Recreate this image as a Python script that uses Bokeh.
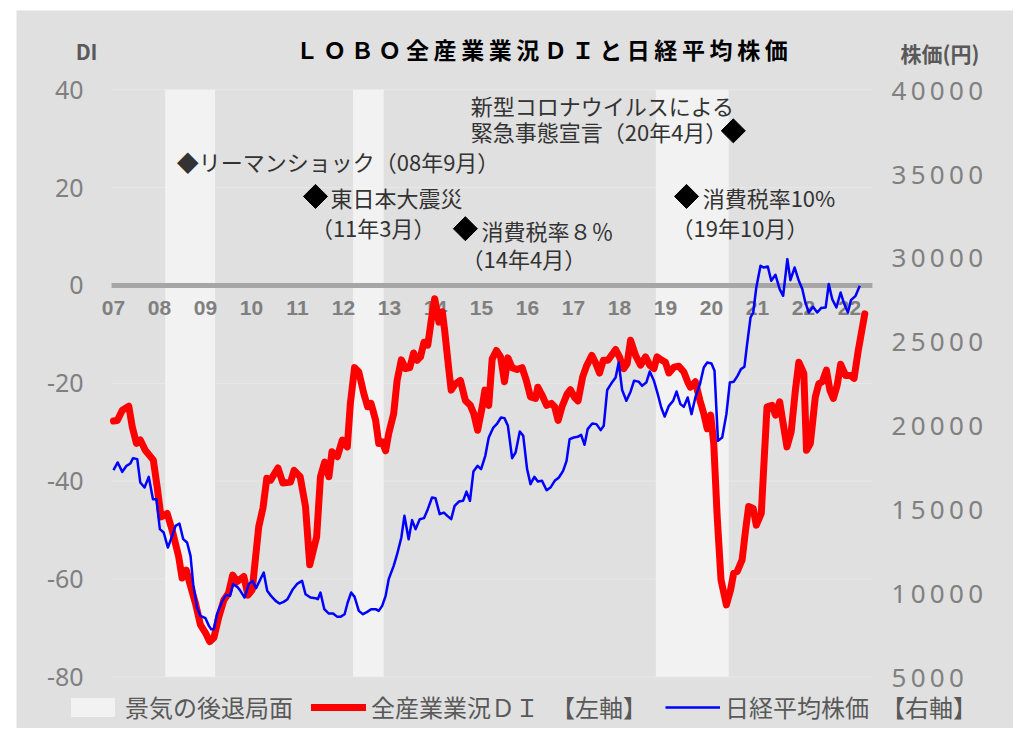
from bokeh.plotting import figure
from bokeh.models import Range1d, LinearAxis, FixedTicker, Legend, LegendItem
from bokeh.embed import file_html
from bokeh.resources import INLINE
from bokeh.core.properties import value
import math

# ---- data (month index: 0 = Jan 2007) ----
di_t = [0, 1, 2.3, 4, 4.9, 6, 7, 8.3, 10.4, 11.4, 12.4, 14, 15.3, 17, 17.9, 19, 19.9, 21.4, 22.7, 24,
        25.1, 26.2, 27.5, 28.8, 30, 31.1, 32.3, 34, 35.1, 36.2, 37, 37.9, 39, 40, 41, 42.9, 44.2, 46.2,
        47.1, 48.7, 50.1, 51.2, 53, 54, 55.1, 56.2, 57, 58.4, 59.7, 61, 61.8, 62.9, 64, 65.3, 66.3, 67.2,
        68.4, 69.2, 70.1, 71, 71.8, 73.1, 74, 75.1, 76.2, 77.3, 78.3, 79.2, 80.1, 81, 82, 82.9, 83.8,
        84.9, 85.8, 86.4, 87.5, 88.1, 89.2, 90.5, 91.8, 93.1, 94, 95, 96.2, 96.9, 97.9, 98.8, 99.9, 101,
        102, 102.9, 104, 105.3, 106.6, 107.7, 108.8, 110.1, 110.7, 111.8, 113, 114.2, 115.1, 116, 117,
        118.4, 119.2, 120.3, 121.2, 122.4, 123.4, 124.8, 125.7, 126.8, 127.8, 129, 131, 132, 133.1, 134,
        134.9, 136.2, 137.5, 138.8, 139.9, 141, 141.8, 143.1, 144, 144.9, 146.2, 147.5, 148.8, 149.8,
        150.5, 151.8, 153, 154, 154.9, 155.8, 156.6, 157.5, 158.5, 159.9, 161, 161.8, 162.7, 164, 164.9,
        165.7, 166.9, 167.7, 169, 169.6, 170.5, 171.8, 172.7, 173.8, 174.7, 175.7, 176.8, 177.9, 178.8,
        180.1, 180.8, 181.8, 183.1, 184, 184.9, 186, 186.9, 187.8, 188.8, 189.7, 191, 192.3, 193.2,
        194.3, 195, 196]
di_v = [-27.7, -27.6, -25.5, -24.7, -28.9, -32.3, -31.6, -33.7, -35.7, -41.2, -47.3, -46.6, -50, -55.4,
        -59.8, -58.2, -60.9, -65, -69.4, -71, -72.8, -72, -67.7, -64.3, -62.9, -59.2, -60.5, -59.5, -63.3,
        -62.2, -56.1, -49.3, -45.5, -39.4, -39.8, -37.3, -40.4, -40.2, -37.8, -39.1, -45.2, -57.1, -51.4,
        -39.1, -36.1, -39.1, -34, -35, -31.6, -33, -24.1, -16.8, -17.7, -22.1, -24.8, -24.1, -27.6, -32.3,
        -32, -33.8, -30.3, -26.2, -19.4, -15.2, -17, -16.8, -13.8, -15.3, -14.6, -11.6, -12.2, -7.1, -2.7,
        -7.5, -5.4, -9.2, -17.3, -21.4, -20.1, -19.4, -23.5, -24.5, -26.2, -29.6, -24.8, -21.4, -24.5, -15,
        -13.3, -14.6, -19.7, -14.8, -16.8, -17.2, -16.8, -19.4, -22.8, -23.1, -20.8, -22.4, -24.5, -24.1,
        -24.8, -27.6, -24.8, -22.1, -21.3, -22.9, -23.6, -18.7, -16.5, -14.3, -15.7, -17.9, -15.3, -15.3,
        -13.1, -14.6, -17, -16, -11.2, -14.3, -16.3, -14.6, -16.3, -17, -14.6, -15.3, -15.7, -17.9, -16.7,
        -16.5, -17.7, -19.7, -20.8, -19.7, -23.5, -26.2, -29.3, -26.5, -32.3, -47.3, -60.2, -65.3, -62.2,
        -58.8, -58.5, -56.1, -50, -45.2, -45.6, -49, -46.6, -37.8, -24.8, -24.5, -26.5, -23.8, -28.2, -33,
        -29.9, -21.4, -15.7, -18, -33.7, -32.3, -22.8, -20.1, -19.7, -17.3, -21.4, -23.1, -20.4, -16.1,
        -18.4, -18.4, -19, -13.3, -10.2, -5.8]

nk_t = [0, 1.1, 2.3, 3.4, 4.4, 5.1, 6.2, 7, 8.1, 9.2, 10.3, 11.2, 12.1, 13.1, 14.2, 15.3, 16.2, 17.2, 18.2,
        19.2, 20.1, 20.8, 21.8, 22.7, 24, 24.9, 25.5, 26.2, 27, 28.4, 29.4, 30.4, 31.2, 32.3, 33.1, 34.2,
        35.3, 36.3, 37.2, 38.2, 39.2, 40.1, 41.1, 42.3, 43.3, 44.4, 45.4, 46.8, 48, 49.2, 50.1, 51.4, 52.7,
        53.3, 54, 55, 56.2, 57.3, 58.4, 59.2, 60.3, 61.1, 62, 62.9, 64, 65.1, 66.2, 67.2, 68.4, 69.2, 70.1,
        71, 71.8, 73.1, 74, 75.1, 75.9, 77, 77.9, 78.8, 79.9, 81, 82, 83.1, 84, 85.1, 86.2, 87.1, 88.1, 89,
        90.1, 91.2, 92.1, 93, 93.9, 95, 95.9, 97, 97.9, 99.1, 100.1, 101.1, 102, 102.9, 104, 104.9, 106,
        106.9, 107.9, 108.8, 109.8, 110.7, 111.8, 113, 114, 115.1, 116.2, 117.3, 118.2, 119, 120.1, 121.1,
        122, 122.9, 123.7, 124.9, 126, 127.1, 127.9, 128.8, 129.9, 131, 131.8, 132.7, 133.8, 134.9, 135.8,
        137, 137.9, 139, 139.9, 141, 142, 142.9, 143.8, 144.9, 146, 146.9, 147.9, 148.8, 149.8, 150.8,
        151.8, 153, 154, 154.9, 156, 156.8, 157.7, 158.8, 159.9, 160.8, 161.8, 162.8, 163.7, 164.6, 165.3,
        166.2, 166.9, 167.7, 168.8, 169.6, 170.7, 171.6, 172.7, 173.8, 174.7, 175.8, 176.6, 177.7, 178.8,
        179.7, 180.5, 181.4, 182.5, 183.6, 184.6, 185.8, 186.6, 187.5, 188.6, 189.7, 190.5, 191.6, 192.4,
        193.6, 194.7]
nk_v = [17322, 17780, 17222, 17580, 17716, 18038, 17978, 16583, 16285, 16922, 15593, 15593, 13804, 13604,
        12707, 13405, 14001, 14140, 13207, 13008, 12213, 10525, 9130, 8634, 8496, 8038, 7840, 7840, 8734,
        9529, 9886, 9827, 10525, 10365, 10127, 9727, 10525, 10723, 10286, 10763, 11217, 10127, 9827, 9529,
        9368, 9470, 9630, 10224, 10560, 10723, 9927, 9727, 9688, 9630, 10025, 9034, 8770, 8770, 8575, 8575,
        8734, 9430, 10025, 9768, 8932, 8734, 8873, 9034, 9034, 8932, 9231, 9827, 10823, 11616, 12312, 13304,
        14598, 13207, 14342, 13804, 14400, 14460, 14997, 15689, 15653, 14699, 14794, 14598, 14400, 15193,
        15450, 15492, 16045, 15492, 17239, 17580, 17385, 18176, 19266, 19863, 20101, 20459, 20423, 19964,
        18038, 18373, 19625, 19368, 17385, 16489, 16922, 16643, 16685, 16128, 16285, 16685, 16883, 17281,
        17878, 19171, 19266, 19308, 19428, 18832, 19767, 20101, 20066, 19708, 19964, 22100, 22500, 22845,
        23739, 22100, 21455, 22000, 22647, 22600, 22349, 22547, 23202, 22647, 21855, 21056, 20518, 21157,
        21455, 22010, 21258, 21097, 21652, 20662, 21652, 22451, 23441, 23739, 23679, 23244, 19070, 19266,
        20662, 22547, 22588, 22946, 23345, 23482, 24836, 26422, 26720, 28211, 29505, 29403, 29466, 28611,
        28969, 28116, 27716, 29903, 28649, 29403, 28611, 28116, 27319, 26720, 27060, 26720, 26983, 27021,
        28414, 27520, 27021, 27913, 27319, 26720, 27460, 27716, 28312]

rec_start = [13, 62, 141]
rec_end = [26, 70, 160]

year_ticks = list(range(0, 193, 12))
year_labels = ["07", "08", "09", "10", "11", "12", "13", "14", "15", "16", "17", "18", "19", "20",
               "21", "22", "22"]
left_ticks = [-80, -60, -40, -20, 0, 20, 40]
right_ticks = [5000, 10000, 15000, 20000, 25000, 30000, 35000, 40000]

# ---- layout constants ----
BG = "#e0e0e0"
JP = "Noto Sans CJK JP"
X0, X1 = -0.5, 198            # x extent of the chart area (months)
DI_LO, DI_HI = -80, 40        # left axis extent
NK_LO, NK_HI = 5000, 40000    # right axis extent
# whole canvas is used as the drawing area, with margins for labels / title / legend
VX0, VX1 = -25.3, 234.8
VY0, VY1 = -90.56, 56.2


def nk_of(d):
    return NK_LO + (NK_HI - NK_LO) * (d - DI_LO) / (DI_HI - DI_LO)


p = figure(width=997, height=718, x_range=Range1d(VX0, VX1), y_range=Range1d(VY0, VY1),
           output_backend="svg", toolbar_location=None, x_axis_location=None,
           min_border=0, margin=(10, 4, 0, 16))
p.background_fill_color = BG
p.border_fill_color = BG
p.outline_line_color = None
p.extra_y_ranges = {"nk": Range1d(nk_of(VY0), nk_of(VY1))}
p.grid.grid_line_color = None


def plain(ax, size, color, standoff, bold=False, font="Noto Sans"):
    ax.axis_line_color = None
    ax.major_tick_line_color = None
    ax.minor_tick_line_color = None
    ax.major_tick_out = 0
    ax.major_tick_in = 0
    ax.major_label_standoff = standoff
    ax.major_label_text_font = font
    ax.major_label_text_font_size = size
    ax.major_label_text_color = color
    if bold:
        ax.major_label_text_font_style = "bold"


ya = p.yaxis[0]
ya.ticker = FixedTicker(ticks=left_ticks)
ya.major_label_overrides = {t: str(t) for t in left_ticks}
ya.fixed_location = X0
plain(ya, "25px", "#808080", 28)

ry = LinearAxis(y_range_name="nk", ticker=FixedTicker(ticks=right_ticks),
                major_label_overrides={t: "\u2009".join(str(t)) for t in right_ticks},
                fixed_location=X1)
plain(ry, "26px", "#808080", 19)
p.add_layout(ry, "right")

# axis captions at the top of each value axis
cap_l = LinearAxis(ticker=FixedTicker(ticks=[48]), major_label_overrides={48: "DI"},
                   fixed_location=X0)
plain(cap_l, "21px", "#595959", 14, bold=True, font=JP)
p.add_layout(cap_l, "left")
cap_r = LinearAxis(y_range_name="nk", ticker=FixedTicker(ticks=[42170]),
                   major_label_overrides={42170: "株価(円)"}, fixed_location=X1)
plain(cap_r, "21px", "#595959", 28, bold=True, font=JP)
p.add_layout(cap_r, "right")

# horizontal grid lines
p.segment(x0=X0, x1=X1, y0=left_ticks, y1=left_ticks, line_color="#e8e8e8", line_width=1)

# recession bands
bands = p.quad(left=[s + 0.5 for s in rec_start], right=[e + 0.5 for e in rec_end],
               bottom=DI_LO, top=DI_HI, fill_color="#f2f2f2", line_color=None)

# zero line
p.segment(x0=[X0], y0=[0], x1=[X1], y1=[0], line_color="#a6a6a6", line_width=5)

# year labels
p.text(x=year_ticks, y=[-4.7] * len(year_ticks), text=year_labels, text_align="center",
       text_baseline="middle", text_font=value("Liberation Sans"), text_font_style="bold",
       text_font_size="21px", text_color="#7f7f7f")

# series
red = p.line(di_t, di_v, line_color="#ff0000", line_width=7, line_join="round", line_cap="round")
blue = p.line(nk_t, nk_v, y_range_name="nk", line_color="#0000ff", line_width=2.5, line_join="round")

# title
p.text(x=[111.7], y=[48.4], text=["\u2009".join("ＬＯＢＯ全産業業況ＤＩと日経平均株価")],
       text_align="center", text_baseline="middle", text_font=value(JP),
       text_font_style="bold", text_font_size="23px", text_color="black")

# event annotations
p.scatter(x=[52.7, 91.8, 149.5, 161.7], y=[18.2, 11.6, 18.2, 31.6], marker="square", size=17,
          angle=math.pi / 4, fill_color="black", line_color="black")
ann_x = [16.5, 56.6, 51.5, 96.0, 90.8, 93.2, 93.2, 153.7, 145.6]
ann_y = [25.5, 18.0, 12.0, 11.4, 5.7, 36.9, 31.6, 18.0, 12.0]
ann_s = ["◆リーマンショック（08年9月）", "東日本大震災", "（11年3月）", "消費税率８％", "（14年4月）",
         "新型コロナウイルスによる", "緊急事態宣言（20年4月）", "消費税率10%", "（19年10月）"]
p.text(x=ann_x, y=ann_y, text=ann_s, text_align="left", text_baseline="middle",
       text_font=value(JP), text_font_size="22px", text_color="#333333")

legend = Legend(items=[LegendItem(label="景気の後退局面", renderers=[bands]),
                       LegendItem(label="全産業業況ＤＩ\u3000【左軸】", renderers=[red]),
                       LegendItem(label="日経平均株価\u3000【右軸】", renderers=[blue])],
                orientation="horizontal", location=(49, 4), glyph_width=55, glyph_height=24,
                label_text_font=JP, label_text_font_size="24px", label_text_color="#595959",
                label_standoff=5, spacing=18, padding=0, margin=0,
                background_fill_alpha=0, border_line_color=None)
p.add_layout(legend, "center")

open("out.html", "w").write(file_html(p, INLINE))
